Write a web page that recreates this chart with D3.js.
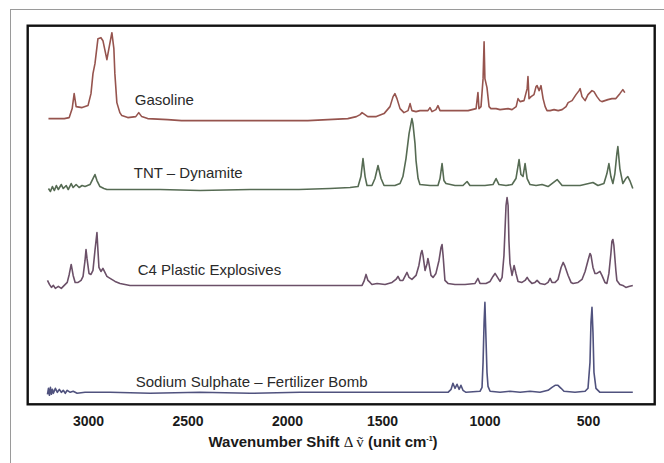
<!DOCTYPE html>
<meta charset="utf-8">
<script src="https://cdn.jsdelivr.net/npm/d3@7"></script>
<style>
  body { margin: 0; background: #fff; }
  svg { display: block; }
</style>
<body>
<div id="spectra"></div>
<script>

// Raman spectra, wavenumber shift (cm-1) vs relative intensity above each trace's baseline
var names = ["Gasoline", "TNT \u2013 Dynamite", "C4 Plastic Explosives", "Sodium Sulphate \u2013 Fertilizer Bomb"];
var tickValues = [3000, 2500, 2000, 1500, 1000, 500];

var gasoline = [
  [3200,0],[3120,0],[3095,1],[3080,10],[3070,25],[3060,12],[3030,11],[3000,13],[2985,25],[2975,45],
  [2965,55],[2950,80],[2935,81],[2925,78],[2905,59],[2895,70],[2880,86],[2870,70],[2865,45],[2855,16],
  [2840,6],[2830,3],[2800,1],[2760,2],[2745,6],[2730,2],[2700,0],[2600,-1],[2530,-2],[2195,-2],
  [1890,-2],[1785,-1],[1680,0],[1635,2],[1615,4],[1605,6],[1590,4],[1575,2],[1530,2],[1490,5],
  [1461,12],[1446,22],[1437,25],[1427,20],[1412,10],[1393,6],[1373,8],[1363,15],[1354,8],[1334,7],
  [1315,8],[1276,8],[1266,11],[1256,7],[1237,9],[1227,13],[1217,8],[1178,8],[1139,8],[1080,8],
  [1041,10],[1032,26],[1027,10],[1017,12],[1007,40],[1002,77],[998,40],[988,31],[978,12],[969,10],
  [944,10],[925,9],[886,10],[867,9],[847,12],[838,20],[828,17],[809,18],[794,30],[790,42],
  [785,20],[775,22],[761,24],[751,32],[746,33],[736,28],[727,33],[717,20],[707,12],[698,8],
  [683,8],[664,9],[644,8],[625,9],[606,12],[596,16],[577,18],[558,24],[543,28],[538,30],
  [529,22],[514,18],[500,24],[480,28],[470,27],[455,22],[440,18],[430,17],[400,19],[380,20],
  [360,20],[340,25],[325,29],[315,26]
];

var tnt = [
  [3200,0],[3190,-3],[3180,2],[3170,-2],[3160,3],[3150,-1],[3135,4],[3125,0],[3110,3],[3100,-1],
  [3085,5],[3075,1],[3060,4],[3045,1],[3030,3],[3015,2],[2990,4],[2975,10],[2965,14],[2955,8],
  [2940,2],[2920,0],[2905,-1],[2839,-1],[2739,-1],[2638,-1],[2437,-2],[2186,-1],[1937,-1],[1774,0],
  [1668,1],[1626,2],[1611,12],[1600,30],[1589,12],[1579,3],[1553,3],[1537,10],[1521,23],[1505,10],
  [1490,3],[1437,3],[1412,5],[1398,12],[1383,30],[1368,55],[1354,70],[1349,65],[1339,45],[1334,28],
  [1324,10],[1315,4],[1266,3],[1227,3],[1217,10],[1207,25],[1198,8],[1188,5],[1144,3],[1105,3],
  [1085,7],[1071,3],[1022,3],[998,3],[959,4],[944,10],[930,4],[896,3],[867,4],[848,10],
  [833,29],[824,14],[814,12],[804,25],[794,10],[780,4],[751,3],[722,4],[693,2],[649,9],
  [625,3],[596,3],[538,3],[475,6],[450,3],[420,5],[405,15],[395,25],[385,12],[375,5],
  [365,15],[355,35],[350,42],[340,20],[325,5],[310,10],[300,12],[290,8],[275,0]
];

var c4 = [
  [3205,5],[3195,1],[3185,-2],[3175,0],[3165,-3],[3150,-1],[3135,-3],[3120,0],[3105,3],[3095,11],
  [3085,21],[3075,10],[3065,3],[3050,3],[3035,5],[3025,9],[3015,25],[3010,36],[3005,27],[2995,12],
  [2985,11],[2975,15],[2965,35],[2955,53],[2950,35],[2945,18],[2935,14],[2925,17],[2920,15],[2905,9],
  [2889,7],[2864,4],[2839,2],[2789,0],[2437,0],[2186,0],[1932,0],[1774,0],[1605,0],[1595,4],
  [1584,11],[1574,5],[1563,3],[1553,1],[1526,2],[1485,1],[1451,3],[1432,6],[1422,9],[1412,5],
  [1398,5],[1388,9],[1378,13],[1368,8],[1354,6],[1334,10],[1320,20],[1310,32],[1305,35],[1300,30],
  [1290,15],[1280,22],[1276,27],[1271,22],[1261,10],[1251,8],[1237,12],[1222,25],[1212,38],[1207,41],
  [1202,30],[1193,5],[1178,2],[1144,1],[1095,1],[1046,2],[1032,7],[1022,2],[993,2],[973,4],
  [959,9],[949,12],[940,9],[925,4],[915,8],[906,30],[901,55],[896,80],[891,88],[886,80],
  [882,45],[877,22],[867,10],[857,20],[848,12],[838,4],[819,3],[804,5],[794,8],[785,5],
  [771,2],[756,3],[746,5],[732,2],[708,1],[693,3],[683,7],[674,3],[659,3],[645,6],
  [630,18],[620,23],[611,19],[596,10],[582,3],[572,2],[548,3],[529,6],[514,14],[500,25],
  [490,32],[485,30],[475,18],[465,12],[455,12],[440,14],[430,10],[415,3],[405,2],[395,12],
  [385,32],[380,44],[375,46],[370,40],[360,15],[355,5],[340,1],[325,0],[310,-2],[295,-1],[275,0]
];

var sodiumSulphate = [
  [3205,-2],[3200,4],[3195,-3],[3190,5],[3185,-2],[3180,3],[3175,-1],[3165,4],[3155,0],[3145,3],
  [3135,0],[3125,2],[3115,-1],[3105,2],[3090,0],[3075,1],[3055,-1],[3015,0],[2889,0],[2688,-1],
  [2437,0],[2186,-1],[1932,0],[1668,0],[1412,0],[1178,0],[1163,3],[1154,9],[1144,4],[1134,8],
  [1124,3],[1115,7],[1105,2],[1090,0],[1022,1],[1012,5],[1007,30],[1002,70],[998,90],[993,55],
  [988,20],[983,6],[973,1],[925,0],[877,1],[828,0],[780,1],[732,0],[693,2],[674,5],
  [659,7],[645,7],[630,4],[616,1],[563,0],[514,1],[500,4],[490,30],[485,70],[480,85],
  [475,60],[470,20],[460,4],[440,0],[390,0],[275,0]
];

// baseline of each trace on the shared intensity scale
var offsets = [286, 216, 119, 12];
var colors = ["#96544e", "#566b53", "#6b5068", "#50527e"];
var series = [gasoline, tnt, c4, sodiumSulphate];

var width = 664, height = 463;

var svg = d3.select("#spectra")
  .append("svg")
    .attr("width", width)
    .attr("height", height);

// page frame
svg.append("rect")
  .attr("x", 10.5).attr("y", 9.5)
  .attr("width", 700).attr("height", 500)
  .attr("fill", "none")
  .attr("stroke", "#9a9a9a")
  .attr("stroke-width", 1);

// reversed wavenumber axis, label spacing in the source is slightly uneven
var x = d3.scaleLinear()
  .domain([3305, 3000, 2500, 2000, 1500, 1000, 500, 165])
  .range([27.7, 88, 187.5, 287, 382, 484.5, 588, 654.7]);

var y = d3.scaleLinear()
  .domain([0, 379])
  .range([404.3, 25.7]);

var line = d3.line()
  .x(function(d) { return x(d[0]); });

series.forEach(function(data, i) {
  svg.append("path")
    .datum(data)
    .attr("fill", "none")
    .attr("stroke", colors[i])
    .attr("stroke-width", 1.6)
    .attr("stroke-linejoin", "round")
    .attr("d", line.y(function(d) { return y(offsets[i] + d[1]); }));
});

// trace names
var labelAt = [2765, 2770, 2750, 2760];
var labelLift = [14, 11, 10, 5];
svg.selectAll(".name")
  .data(names)
  .enter()
  .append("text")
    .attr("class", "name")
    .attr("x", function(d, i) { return x(labelAt[i]); })
    .attr("y", function(d, i) { return y(offsets[i] + labelLift[i]); })
    .attr("font-family", "'Liberation Sans', Arial, sans-serif")
    .attr("font-size", 15)
    .attr("fill", "#2a2a2a")
    .text(function(d) { return d; });

// plot box
svg.append("rect")
  .attr("x", 27.7).attr("y", 25.7)
  .attr("width", 627).attr("height", 378.6)
  .attr("fill", "none")
  .attr("stroke", "#111")
  .attr("stroke-width", 2.4);

// x axis: labels only
var axis = svg.append("g")
  .attr("transform", "translate(0,404.3)")
  .call(d3.axisBottom(x).tickValues(tickValues).tickSize(0).tickPadding(12).tickFormat(d3.format("d")));
axis.select(".domain").remove();
axis.selectAll("text")
  .attr("font-family", "'Liberation Sans', Arial, sans-serif")
  .attr("font-size", 14)
  .attr("font-weight", "bold")
  .attr("fill", "#1a1a1a");

// axis title
var title = svg.append("text")
  .attr("x", 323)
  .attr("y", 447)
  .attr("text-anchor", "middle")
  .attr("font-family", "'Liberation Sans', Arial, sans-serif")
  .attr("font-size", 15)
  .attr("font-weight", "bold")
  .attr("fill", "#1a1a1a");
title.append("tspan").text("Wavenumber Shift ");
title.append("tspan")
  .attr("font-family", "'Liberation Serif', serif")
  .attr("font-weight", "normal")
  .text("\u0394 \u1E7D");
title.append("tspan").text(" (unit cm");
title.append("tspan")
  .attr("font-size", 7)
  .attr("dy", -6)
  .text("-1");
title.append("tspan")
  .attr("dy", 6)
  .text(")");

</script>
</body>
